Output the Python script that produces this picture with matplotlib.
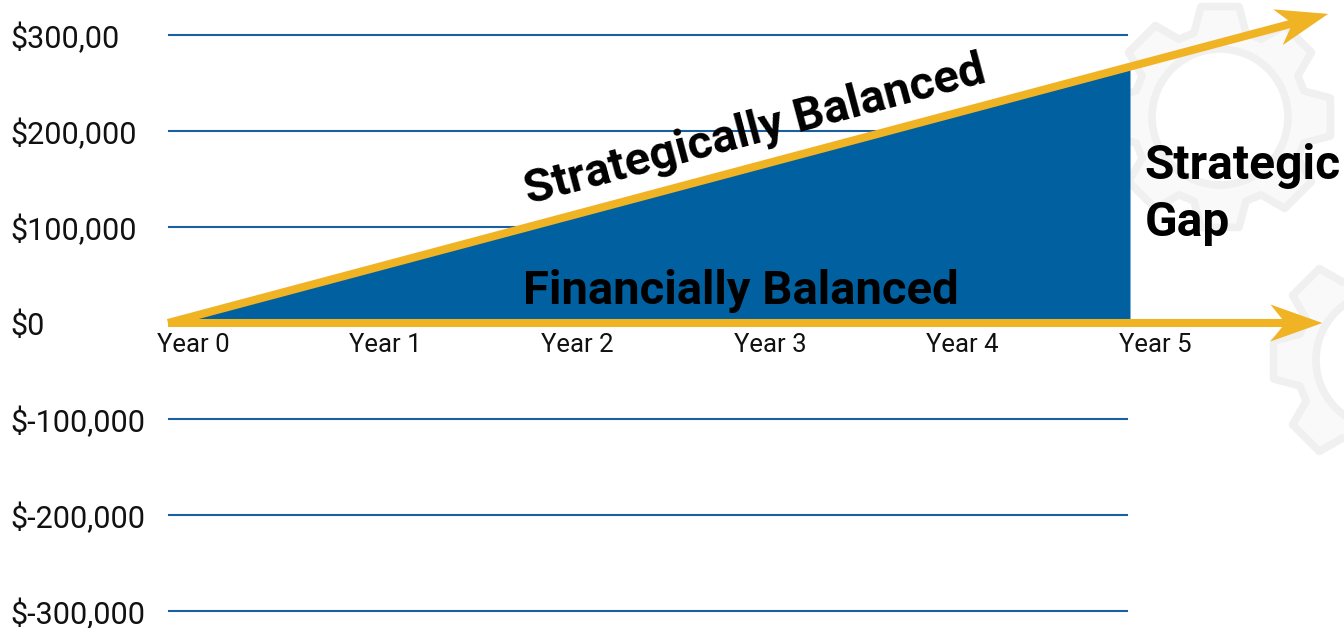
import numpy as np
import matplotlib
matplotlib.use("Agg")
import matplotlib.pyplot as plt
from matplotlib.patches import Polygon, Circle
from matplotlib.transforms import ScaledTranslation, IdentityTransform

plt.rcParams['font.family'] = ['Roboto', 'DejaVu Sans']
plt.rcParams['text.parse_math'] = False

# --------------------------------
# Data
# --------------------------------
years = [0, 1, 2, 3, 4, 5]
year_labels = ['Year 0', 'Year 1', 'Year 2', 'Year 3', 'Year 4', 'Year 5']
y_ticks = [300000, 200000, 100000, 0, -100000, -200000, -300000]
y_labels = ['$300,00', '$200,000', '$100,000', '$0',
            '$-100,000', '$-200,000', '$-300,000']

financial_x = [0, 5]          # filled wedge (financially balanced)
financial_y = [0, 264000]
strategic_x = [0, 6.03]       # upper arrow (strategically balanced)
strategic_y = [0, 322000]
base_x = [0, 6.0]             # lower arrow along $0
base_y = [0, 0]

BLUE = '#0060a0'
GRID = '#1b5fa0'
GOLD = '#f0b323'

# --------------------------------
# Figure
# --------------------------------
fig = plt.figure(figsize=(13.44, 6.28), dpi=100)

# faint gear watermark (pixel coordinates)
bg = fig.add_axes([0, 0, 1, 1], zorder=0)
bg.set_xlim(0, 1344)
bg.set_ylim(628, 0)
bg.axis('off')


def gear(cx, cy, r_out=112, r_root=88, teeth=8):
    pts = []
    step = 2 * np.pi / teeth
    for k in range(teeth):
        a = k * step - np.pi / 2
        for da, r in [(-0.30, r_root), (-0.17, r_out), (0.17, r_out), (0.30, r_root)]:
            pts.append((cx + r * np.cos(a + da), cy + r * np.sin(a + da)))
    return pts


for cx, cy in [(1220, 117), (1384, 360)]:
    bg.add_patch(Polygon(gear(cx, cy), closed=True, facecolor='#f9f9f9',
                         edgecolor='#f0f0f0', lw=5.5, joinstyle='round'))
    bg.add_patch(Circle((cx, cy), 68, facecolor='white', edgecolor='#f0f0f0', lw=5.5))

ax = fig.add_axes([0, 0, 1, 1], zorder=1)
ax.patch.set_alpha(0)
ax.set_xlim(-168 / 192.4, (1344 - 168) / 192.4)
ax.set_ylim(-(628 - 323) / 0.96 * 1000, 323 / 0.96 * 1000)

for s in ax.spines.values():
    s.set_color('none')
ax.spines['bottom'].set_position(('data', 0))

# grid lines
ax.hlines(y_ticks, 0, 4.99, color=GRID, lw=1.5, zorder=1)

# financially balanced wedge
ax.fill_between(financial_x, 0, financial_y, color=BLUE, lw=0, zorder=2)


def draw_arrow(xs, ys, head_len=52, head_w=37, notch=15):
    p0 = ax.transData.transform((xs[0], ys[0]))
    p1 = ax.transData.transform((xs[-1], ys[-1]))
    u = (p1 - p0) / np.hypot(*(p1 - p0))
    n = np.array([-u[1], u[0]])
    back = p1 - u * head_len
    neck = p1 - u * (head_len - notch)
    nd = ax.transData.inverted().transform(neck)
    ax.plot([xs[0], nd[0]], [ys[0], nd[1]], color=GOLD, lw=5.8,
            solid_capstyle='butt', zorder=3)
    ax.add_patch(Polygon([p1, back + n * head_w / 2, neck, back - n * head_w / 2],
                         closed=True, color=GOLD, lw=0,
                         transform=IdentityTransform(), zorder=3))
    return np.degrees(np.arctan2(u[1], u[0]))


draw_arrow(base_x, base_y)
angle = draw_arrow(strategic_x, strategic_y)

# axis labels
ax.set_xticks(years, year_labels)
ax.tick_params(axis='x', length=0, pad=7, labelsize=18.5, labelcolor='#111111')
offset = ScaledTranslation(25 / 100, 0, fig.dpi_scale_trans)
for lbl in ax.get_xticklabels():
    lbl.set_transform(lbl.get_transform() + offset)

ax.set_yticks(y_ticks, y_labels)
ax.tick_params(axis='y', length=0, pad=-7.2, labelsize=22, labelcolor='#111111')
for lbl in ax.get_yticklabels():
    lbl.set_horizontalalignment('left')
    lbl.set_verticalalignment('center_baseline')

# annotations
ax.text(2.98, 20000, 'Financially Balanced', ha='center', va='baseline',
        fontsize=34, fontweight='bold', color='black', zorder=4)
ax.text(3.05, 200000, 'Strategically Balanced', ha='center', va='center',
        rotation=angle, rotation_mode='anchor',
        fontsize=34, fontweight='bold', color='black', zorder=4)
ax.text(5.075, 188000, 'Strategic\nGap', ha='left', va='top', linespacing=1.32,
        fontsize=34.5, fontweight='bold', color='black', zorder=4)

fig.savefig('out.png', dpi=100)
